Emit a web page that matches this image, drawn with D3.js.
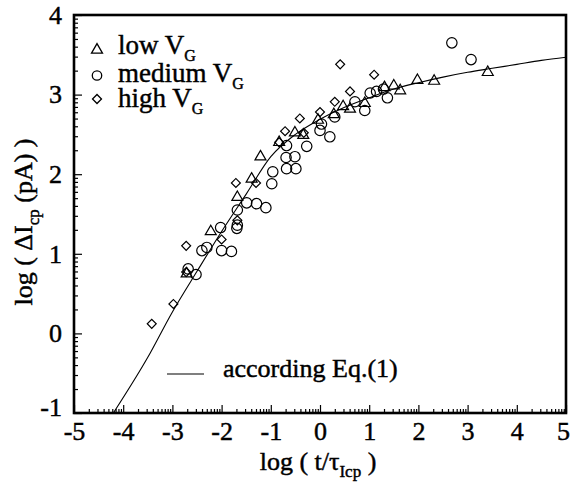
<!DOCTYPE html>
<html>
<head>
<meta charset="utf-8">
<script src="https://cdn.jsdelivr.net/npm/d3@7"></script>
<style>
  body { margin: 0; background: #fff; }
  svg text { font-family: "Liberation Serif", "Times New Roman", serif; fill: #000; stroke: #000; stroke-width: 0.45px; }
</style>
</head>
<body>
<div id="container"></div>
<script>

// values (log t/tau, log dI)
var lowVG = [
	[-2.71,0.75],[-2.22,1.28],[-1.68,1.71],[-1.39,1.94],[-1.21,2.22],[-0.83,2.40],
	[-0.51,2.52],[-0.34,2.49],[-0.04,2.68],[0.28,2.75],[0.47,2.85],[0.61,2.82],
	[0.91,2.89],[1.31,3.09],[1.50,3.11],[1.63,3.05],[1.98,3.18],[2.32,3.17],[3.41,3.28]
];
var mediumVG = [
	[-2.68,0.81],[-2.52,0.74],[-2.40,1.04],[-2.30,1.08],[-2.02,1.33],[-2.00,1.04],
	[-1.80,1.03],[-1.69,1.32],[-1.68,1.36],[-1.68,1.55],[-1.49,1.64],[-1.29,1.63],
	[-1.10,1.58],[-0.98,1.88],[-0.96,2.03],[-0.69,2.21],[-0.68,2.07],[-0.68,2.36],
	[-0.51,2.22],[-0.49,2.07],[-0.27,2.35],[0.00,2.55],[0.03,2.63],[0.20,2.47],
	[0.30,2.72],[0.71,2.91],[0.91,2.80],[1.02,3.02],[1.15,3.04],[1.29,3.07],
	[1.37,2.96],[2.68,3.65],[3.07,3.44]
];
var highVG = [
	[-3.42,0.12],[-2.98,0.37],[-2.72,0.77],[-2.72,1.10],[-2.00,1.18],[-1.71,1.89],
	[-1.68,1.42],[-1.30,1.89],[-0.83,2.40],[-0.71,2.54],[-0.41,2.70],[-0.33,2.52],
	[0.00,2.78],[0.30,2.91],[0.61,3.04],[0.41,3.38],[1.10,3.25]
];

// fitted curve, "according Eq.(1)"
var fitX = [-4.2,-3.5,-3.0,-2.5,-2.0,-1.5,-1.0,-0.5,0,0.5,1.0,1.5,2.0,2.5,3.0,3.5,4.0,4.5,5.0];
var fitY = [-1.0,-0.30,0.27,0.78,1.28,1.75,2.22,2.50,2.69,2.84,2.96,3.07,3.15,3.22,3.28,3.33,3.38,3.43,3.47];

var xTicks = [-5,-4,-3,-2,-1,0,1,2,3,4,5];
var yTicks = [-1,0,1,2,3,4];
var legendNames = ["low V", "medium V", "high V"];


function render() {
	var width = 570, height = 484;
	var margin = {left:74, top:15, right:4, bottom:71};

	var svg = d3.select("#container")
		.append('svg')
		.attr("width",width)
		.attr('height',height);

	var x = d3.scaleLinear().domain([-5,5]).range([margin.left, width - margin.right]);
	var y = d3.scaleLinear().domain([-1,4]).range([height - margin.bottom, margin.top]);

	// minor log ticks inside each unit
	var minorX = [], minorY = [];
	xTicks.slice(0,-1).forEach(n => { for (var k=2;k<10;k++) minorX.push(n + Math.log10(k)); });
	yTicks.slice(0,-1).forEach(n => { for (var k=2;k<10;k++) minorY.push(n + Math.log10(k)); });

	var fmt = d => d < 0 ? "-" + Math.abs(d) : "" + d;

	var xAxis = svg.append('g')
		.attr('transform','translate(0,' + y(-1) + ')')
		.call(d3.axisBottom(x).tickValues(xTicks).tickSize(-8).tickPadding(9).tickFormat(fmt));
	var xMinor = svg.append('g')
		.attr('transform','translate(0,' + y(-1) + ')')
		.call(d3.axisBottom(x).tickValues(minorX).tickSize(-4).tickFormat(""));

	var yAxis = svg.append('g')
		.attr('transform','translate(' + x(-5) + ',0)')
		.call(d3.axisLeft(y).tickValues(yTicks).tickSize(-8).tickPadding(12).tickFormat(fmt));
	var yMinor = svg.append('g')
		.attr('transform','translate(' + x(-5) + ',0)')
		.call(d3.axisLeft(y).tickValues(minorY).tickSize(-4).tickFormat(""));

	xMinor.selectAll('.tick text').remove();
	yMinor.selectAll('.tick text').remove();
	svg.selectAll('.domain').remove();
	svg.selectAll('.tick line').attr('stroke','#000').attr('stroke-width',1.2);
	[xAxis, yAxis].forEach(a => {
		a.attr('font-family','Liberation Serif').attr('font-size',26);
		a.selectAll('.tick text').attr('font-size',26).attr('fill','#000');
	});
	xAxis.selectAll('.tick text').attr('dy','0.71em').attr('dx', d => d == 5 ? -3 : 0);
	yAxis.selectAll('.tick text').attr('dy', d => d == -1 ? '0.1em' : '0.32em');

	// frame
	svg.append('rect')
		.attr('x', x(-5)).attr('y', y(4))
		.attr('width', x(5) - x(-5)).attr('height', y(-1) - y(4))
		.attr('fill','none').attr('stroke','#000').attr('stroke-width',2.6);

	// curve
	svg.append('defs').append('clipPath').attr('id','plot')
		.append('rect').attr('x', x(-5)).attr('y', y(4))
		.attr('width', x(5) - x(-5)).attr('height', y(-1) - y(4));

	var line = d3.line().x(d => x(d[0])).y(d => y(d[1])).curve(d3.curveMonotoneX);
	svg.append('path')
		.datum(fitX.map((v,i) => [v, fitY[i]]))
		.attr('clip-path','url(#plot)')
		.attr('d', line)
		.attr('fill','none').attr('stroke','#000').attr('stroke-width',1.1);

	var tri = d3.symbol().type(d3.symbolTriangle).size(52);
	var dia = d3.symbol().type(d3.symbolSquare).size(40);

	svg.append('g').selectAll('circle')
		.data(mediumVG).enter().append('circle')
		.attr('cx', d => x(d[0])).attr('cy', d => y(d[1])).attr('r', 5.2)
		.attr('fill','none').attr('stroke','#000').attr('stroke-width',1.2);

	svg.append('g').selectAll('path')
		.data(lowVG).enter().append('path')
		.attr('d', tri)
		.attr('transform', d => 'translate(' + x(d[0]) + ',' + y(d[1]) + ')')
		.attr('fill','none').attr('stroke','#000').attr('stroke-width',1.2);

	svg.append('g').selectAll('path')
		.data(highVG).enter().append('path')
		.attr('d', dia)
		.attr('transform', d => 'translate(' + x(d[0]) + ',' + y(d[1]) + ') rotate(45)')
		.attr('fill','none').attr('stroke','#000').attr('stroke-width',1.2);

	// legend
	var legY = [54, 81.5, 107];
	var markers = [tri, d3.symbol().type(d3.symbolCircle).size(70), dia];
	legendNames.forEach((name,i) => {
		svg.append('path')
			.attr('d', markers[i])
			.attr('transform','translate(97,' + (legY[i] - (i==0 ? 4 : i==1 ? 6 : 8)) + ')' + (i==2 ? ' rotate(45)' : ''))
			.attr('fill','none').attr('stroke','#000').attr('stroke-width',1.3);
		var t = svg.append('text').attr('x',118).attr('y',legY[i]).attr('font-size',27);
		t.append('tspan').text(name);
		t.append('tspan').attr('dy',7).attr('font-size',16).text("G");
	});

	svg.append('line')
		.attr('x1',167).attr('x2',204).attr('y1',374).attr('y2',374)
		.attr('stroke','#000').attr('stroke-width',1.1);
	svg.append('text').attr('x',223).attr('y',377).attr('font-size',26).text("according Eq.(1)");

	// axis titles
	var xt = svg.append('text').attr('x',318).attr('y',470).attr('text-anchor','middle').attr('font-size',26);
	xt.append('tspan').text("log ( t/\u03C4");
	xt.append('tspan').attr('dy',7).attr('font-size',17).text("Icp");
	xt.append('tspan').attr('dy',-7).text(" )");

	var yt = svg.append('text').attr('transform','translate(32,222) rotate(-90)').attr('text-anchor','middle').attr('font-size',26);
	yt.append('tspan').text("log ( \u0394I");
	yt.append('tspan').attr('dy',7).attr('font-size',17).text("cp");
	yt.append('tspan').attr('dy',-7).text(" (pA) )");
};

render();
</script>
</body>
</html>
